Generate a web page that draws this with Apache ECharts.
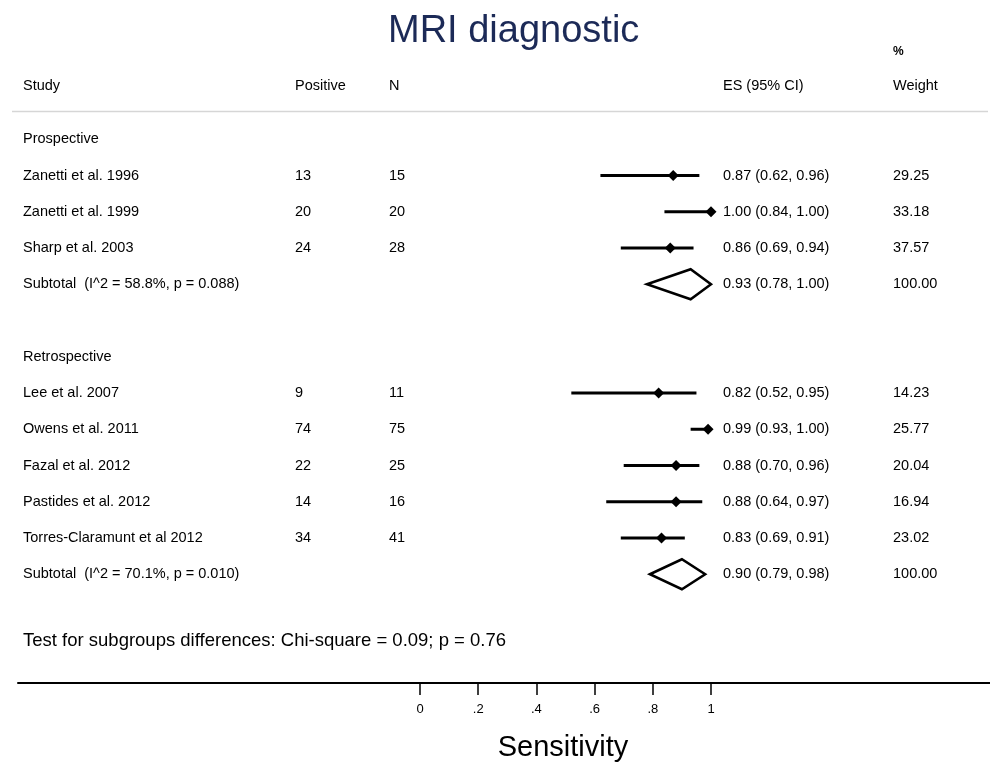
<!DOCTYPE html>
<html>
<head>
<meta charset="utf-8">
<script src="https://cdn.jsdelivr.net/npm/echarts@6/dist/echarts.min.js"></script>
<style>
html,body{margin:0;padding:0;background:#fff;}
#main{width:990px;height:766px;}
</style>
</head>
<body>
<div id="main"></div>
<script>
// ---- data ----
const groups = ["Prospective", "Retrospective"];
const studies = ["Zanetti et al. 1996", "Zanetti et al. 1999", "Sharp et al. 2003",
  "Lee et al. 2007", "Owens et al. 2011", "Fazal et al. 2012", "Pastides et al. 2012", "Torres-Claramunt et al 2012"];
const studyGroup = [0, 0, 0, 1, 1, 1, 1, 1];
const positive = [13, 20, 24, 9, 74, 22, 14, 34];
const totalN = [15, 20, 28, 11, 75, 25, 16, 41];
const es = [0.87, 1.00, 0.86, 0.82, 0.99, 0.88, 0.88, 0.83];
const ciLow = [0.62, 0.84, 0.69, 0.52, 0.93, 0.70, 0.64, 0.69];
const ciHigh = [0.96, 1.00, 0.94, 0.95, 1.00, 0.96, 0.97, 0.91];
const weights = ["29.25", "33.18", "37.57", "14.23", "25.77", "20.04", "16.94", "23.02"];
const subLabels = ["Subtotal  (I^2 = 58.8%, p = 0.088)", "Subtotal  (I^2 = 70.1%, p = 0.010)"];
const subEs = [0.93, 0.90];
const subLow = [0.78, 0.79];
const subHigh = [1.00, 0.98];
const subWeight = ["100.00", "100.00"];
const testText = "Test for subgroups differences: Chi-square = 0.09; p = 0.76";
const tickValues = [0, 0.2, 0.4, 0.6, 0.8, 1];
const tickLabels = ["0", ".2", ".4", ".6", ".8", "1"];

// ---- build rows ----
const FONT = "'Liberation Sans', Arial, sans-serif";
const BODY = '14.5px ' + FONT;
const fmt = (e, l, h) => e.toFixed(2) + " (" + l.toFixed(2) + ", " + h.toFixed(2) + ")";
const textRows = [];   // {row, cols:[study,pos,n,es,weight], big}
const studyData = [];  // [row, lo, est, hi]
const subData = [];
let row = 0;
groups.forEach((g, gi) => {
  textRows.push({row: row, cols: [g, "", "", "", ""]});
  row++;
  studies.forEach((s, i) => {
    if (studyGroup[i] !== gi) return;
    textRows.push({row: row, cols: [s, String(positive[i]), String(totalN[i]), fmt(es[i], ciLow[i], ciHigh[i]), weights[i]]});
    studyData.push([row, ciLow[i], es[i], ciHigh[i]]);
    row++;
  });
  textRows.push({row: row, cols: [subLabels[gi], "", "", fmt(subEs[gi], subLow[gi], subHigh[gi]), subWeight[gi]]});
  subData.push([row, subLow[gi], subEs[gi], subHigh[gi]]);
  row += 2;
});
textRows.push({row: 13.85, cols: [testText, "", "", "", ""], big: true});

const colX = [23, 295, 389, 723, 893];

const chart = echarts.init(document.getElementById('main'), null, {renderer: 'canvas'});
chart.setOption({
  backgroundColor: '#ffffff',
  animation: false,
  grid: {left: 18, right: 0, top: 103, height: 580},
  xAxis: {
    type: 'value',
    min: (18 - 420) / 291,
    max: (990 - 420) / 291,
    splitLine: {show: false},
    axisLine: {show: true, onZero: false, lineStyle: {color: '#000', width: 2}},
    axisTick: {show: true, customValues: tickValues, length: 12, lineStyle: {color: '#000', width: 1.5}},
    axisLabel: {
      show: true, customValues: tickValues, margin: 20,
      fontFamily: FONT, fontSize: 13, color: '#000',
      formatter: v => {
        const k = tickValues.findIndex(t => Math.abs(t - v) < 1e-6);
        return k >= 0 ? tickLabels[k] : '';
      }
    }
  },
  yAxis: {
    type: 'value', inverse: true, min: -1, max: 15,
    show: false, splitLine: {show: false}
  },
  graphic: [
    {type: 'text', left: 388, top: 13, style: {text: 'MRI diagnostic', font: '38px ' + FONT, fill: '#1c2a57'}},
    {type: 'text', x: 893, y: 52, style: {text: '%', font: 'bold 12px ' + FONT, fill: '#000', verticalAlign: 'middle'}},
    {type: 'text', x: colX[0], y: 86, style: {text: 'Study', font: BODY, fill: '#000', verticalAlign: 'middle'}},
    {type: 'text', x: colX[1], y: 86, style: {text: 'Positive', font: BODY, fill: '#000', verticalAlign: 'middle'}},
    {type: 'text', x: colX[2], y: 86, style: {text: 'N', font: BODY, fill: '#000', verticalAlign: 'middle'}},
    {type: 'text', x: colX[3], y: 86, style: {text: 'ES (95% CI)', font: BODY, fill: '#000', verticalAlign: 'middle'}},
    {type: 'text', x: colX[4], y: 86, style: {text: 'Weight', font: BODY, fill: '#000', verticalAlign: 'middle'}},
    {type: 'line', shape: {x1: 12, y1: 111.5, x2: 988, y2: 111.5}, style: {stroke: '#d6d6d6', lineWidth: 1.5}},
    {type: 'text', x: 563, y: 748, style: {text: 'Sensitivity', font: '29px ' + FONT, fill: '#000', align: 'center', verticalAlign: 'middle'}}
  ],
  series: [
    {
      type: 'custom', name: 'text',
      data: textRows.map(r => [0, r.row]),
      encode: {x: 0, y: 1},
      clip: false,
      renderItem: function (params, api) {
        const r = textRows[params.dataIndex];
        const y = api.coord([0, r.row])[1];
        const children = [];
        r.cols.forEach((t, c) => {
          if (!t) return;
          children.push({
            type: 'text', x: colX[c], y: y,
            style: {text: t, font: r.big ? '18.5px ' + FONT : BODY, fill: '#000', verticalAlign: 'middle'}
          });
        });
        return {type: 'group', children: children};
      }
    },
    {
      type: 'custom', name: 'studies',
      data: studyData,
      encode: {x: [1, 2, 3], y: 0},
      clip: false,
      renderItem: function (params, api) {
        const r = api.value(0);
        const pL = api.coord([api.value(1), r]);
        const pE = api.coord([api.value(2), r]);
        const pH = api.coord([api.value(3), r]);
        const s = 5.5;
        return {type: 'group', children: [
          {type: 'line', shape: {x1: pL[0], y1: pL[1], x2: pH[0], y2: pH[1]}, style: {stroke: '#000', lineWidth: 3}},
          {type: 'polygon', shape: {points: [[pE[0] - s, pE[1]], [pE[0], pE[1] - s], [pE[0] + s, pE[1]], [pE[0], pE[1] + s]]}, style: {fill: '#000'}}
        ]};
      }
    },
    {
      type: 'custom', name: 'subtotals',
      data: subData,
      encode: {x: [1, 2, 3], y: 0},
      clip: false,
      renderItem: function (params, api) {
        const r = api.value(0);
        const pL = api.coord([api.value(1), r]);
        const pE = api.coord([api.value(2), r]);
        const pH = api.coord([api.value(3), r]);
        const h = 15;
        return {type: 'polygon', shape: {points: [[pL[0], pL[1]], [pE[0], pE[1] - h], [pH[0], pH[1]], [pE[0], pE[1] + h]]},
          style: {fill: '#fff', stroke: '#000', lineWidth: 2.5, lineJoin: 'miter'}};
      }
    }
  ]
});
</script>
</body>
</html>
